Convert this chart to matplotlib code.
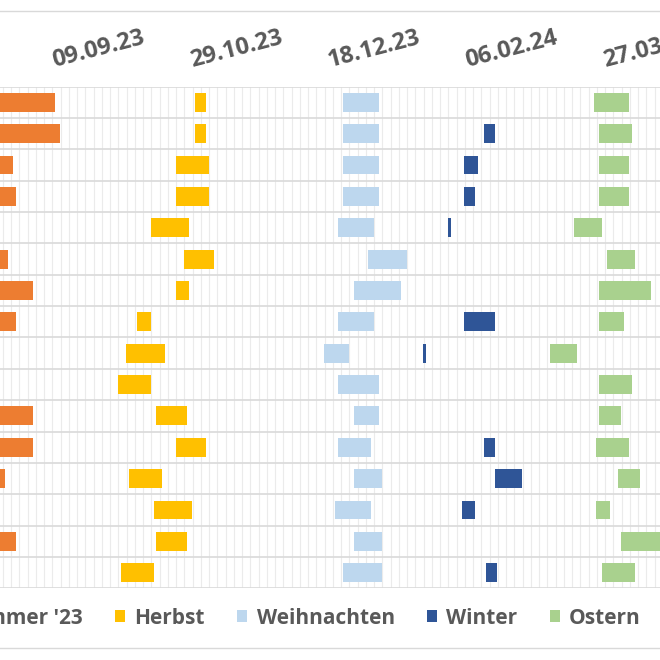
import matplotlib
matplotlib.use('Agg')
import matplotlib.pyplot as plt
import matplotlib.dates as mdates
from datetime import datetime
import numpy as np

plt.rcParams['font.family'] = ['Open Sans', 'DejaVu Sans']

states = ["Baden-Württemberg", "Bayern", "Berlin", "Brandenburg", "Bremen",
          "Hamburg", "Hessen", "Mecklenburg-Vorpommern", "Niedersachsen",
          "Nordrhein-Westfalen", "Rheinland-Pfalz", "Saarland", "Sachsen",
          "Sachsen-Anhalt", "Schleswig-Holstein", "Thüringen"]

# (start, end) per state, None = no holidays of that kind
sommer = [("27.07.23", "09.09.23"), ("31.07.23", "11.09.23"), ("13.07.23", "25.08.23"),
          ("13.07.23", "26.08.23"), ("06.07.23", "16.08.23"), ("13.07.23", "23.08.23"),
          ("24.07.23", "01.09.23"), ("17.07.23", "26.08.23"), ("06.07.23", "16.08.23"),
          ("22.06.23", "04.08.23"), ("24.07.23", "01.09.23"), ("24.07.23", "01.09.23"),
          ("10.07.23", "22.08.23"), ("06.07.23", "16.08.23"), ("17.07.23", "26.08.23"),
          ("10.07.23", "19.08.23")]
herbst = [("30.10.23", "03.11.23"), ("30.10.23", "03.11.23"), ("23.10.23", "04.11.23"),
          ("23.10.23", "04.11.23"), ("14.10.23", "28.10.23"), ("26.10.23", "06.11.23"),
          ("23.10.23", "28.10.23"), ("09.10.23", "14.10.23"), ("05.10.23", "19.10.23"),
          ("02.10.23", "14.10.23"), ("16.10.23", "27.10.23"), ("23.10.23", "03.11.23"),
          ("06.10.23", "18.10.23"), ("15.10.23", "29.10.23"), ("16.10.23", "27.10.23"),
          ("03.10.23", "15.10.23")]
weihnachten = [("23.12.23", "05.01.24"), ("23.12.23", "05.01.24"), ("23.12.23", "05.01.24"),
               ("23.12.23", "05.01.24"), ("21.12.23", "03.01.24"), ("01.01.24", "15.01.24"),
               ("27.12.23", "13.01.24"), ("21.12.23", "03.01.24"), ("16.12.23", "25.12.23"),
               ("21.12.23", "05.01.24"), ("27.12.23", "05.01.24"), ("21.12.23", "02.01.24"),
               ("27.12.23", "06.01.24"), ("20.12.23", "02.01.24"), ("27.12.23", "06.01.24"),
               ("23.12.23", "06.01.24")]
winter = [None, ("12.02.24", "16.02.24"), ("05.02.24", "10.02.24"),
          ("05.02.24", "09.02.24"), ("30.01.24", "31.01.24"), None,
          None, ("05.02.24", "16.02.24"), ("21.01.24", "22.01.24"),
          None, None, ("12.02.24", "16.02.24"),
          ("16.02.24", "26.02.24"), ("04.02.24", "09.02.24"), None,
          ("13.02.24", "17.02.24")]
ostern = [("23.03.24", "05.04.24"), ("25.03.24", "06.04.24"), ("25.03.24", "05.04.24"),
          ("25.03.24", "05.04.24"), ("16.03.24", "26.03.24"), ("28.03.24", "07.04.24"),
          ("25.03.24", "13.04.24"), ("25.03.24", "03.04.24"), ("07.03.24", "17.03.24"),
          ("25.03.24", "06.04.24"), ("25.03.24", "02.04.24"), ("24.03.24", "05.04.24"),
          ("01.04.24", "09.04.24"), ("24.03.24", "29.03.24"), ("02.04.24", "19.04.24"),
          ("26.03.24", "07.04.24")]

series = [("Sommer '23", sommer, "#ED7D31"),
          ("Herbst", herbst, "#FFC000"),
          ("Weihnachten", weihnachten, "#BDD7EE"),
          ("Winter", winter, "#2F5597"),
          ("Ostern", ostern, "#A9D18E")]


def d(s):
    return mdates.date2num(datetime.strptime(s, "%d.%m.%y"))


fig = plt.figure(figsize=(6.6, 6.6), dpi=100)
ax = fig.add_axes([0, 1 - 588.3 / 660, 1, (588.3 - 86.7) / 660])

for name, spans, color in series:
    ys, lefts, widths = [], [], []
    for i, span in enumerate(spans):
        if span is None:
            continue
        ys.append(i)
        lefts.append(d(span[0]))
        widths.append(d(span[1]) - d(span[0]))
    ax.barh(ys, widths, left=lefts, height=0.6, color=color, label=name, zorder=3)

ref = d("09.09.23")
major = np.arange(ref - 100, ref + 300, 50)
ax.xaxis.tick_top()
ax.set_xticks(major, [mdates.num2date(t).strftime("%d.%m.%y") for t in major],
              rotation=14.5, ha="left", va="baseline", rotation_mode="anchor",
              fontweight="bold", fontsize=17, color="#595959")
ax.set_xticks(np.arange(ref + 2.2 - 60, ref + 240, 3), minor=True)
ax.set_yticks(range(len(states)), states)
ax.set_yticks(np.arange(-0.5, len(states)), minor=True)

# the picture is a crop, so the visible window is narrower than the chart
ax.set_xlim(ref - 54.6 / 2.75, ref + (660 - 54.6) / 2.75)
ax.set_ylim(len(states) - 0.5, -0.5)

ax.tick_params(axis="x", which="both", length=0, pad=14)
ax.tick_params(axis="y", which="both", length=0)
ax.grid(True, which="minor", axis="x", color="#EBEBEB", lw=0.8)
ax.grid(True, which="minor", axis="y", color="#D9D9D9", lw=1.2)
ax.set_axisbelow(True)
for sp in ax.spines.values():
    sp.set_visible(False)

fig.add_artist(plt.Line2D([0, 1], [1 - 11 / 660] * 2, color="#D9D9D9", lw=1, transform=fig.transFigure))
fig.add_artist(plt.Line2D([0, 1], [1 - 648 / 660] * 2, color="#D9D9D9", lw=1, transform=fig.transFigure))

fig.legend(loc="center right", bbox_to_anchor=(641 / 660, 1 - 618 / 660), ncol=5,
           frameon=False, prop={"weight": "bold", "size": 15}, labelcolor="#595959",
           handlelength=0.48, handleheight=0.48, handletextpad=0.45, columnspacing=1.55,
           borderpad=0, borderaxespad=0)

fig.savefig("out.png", dpi=100)
